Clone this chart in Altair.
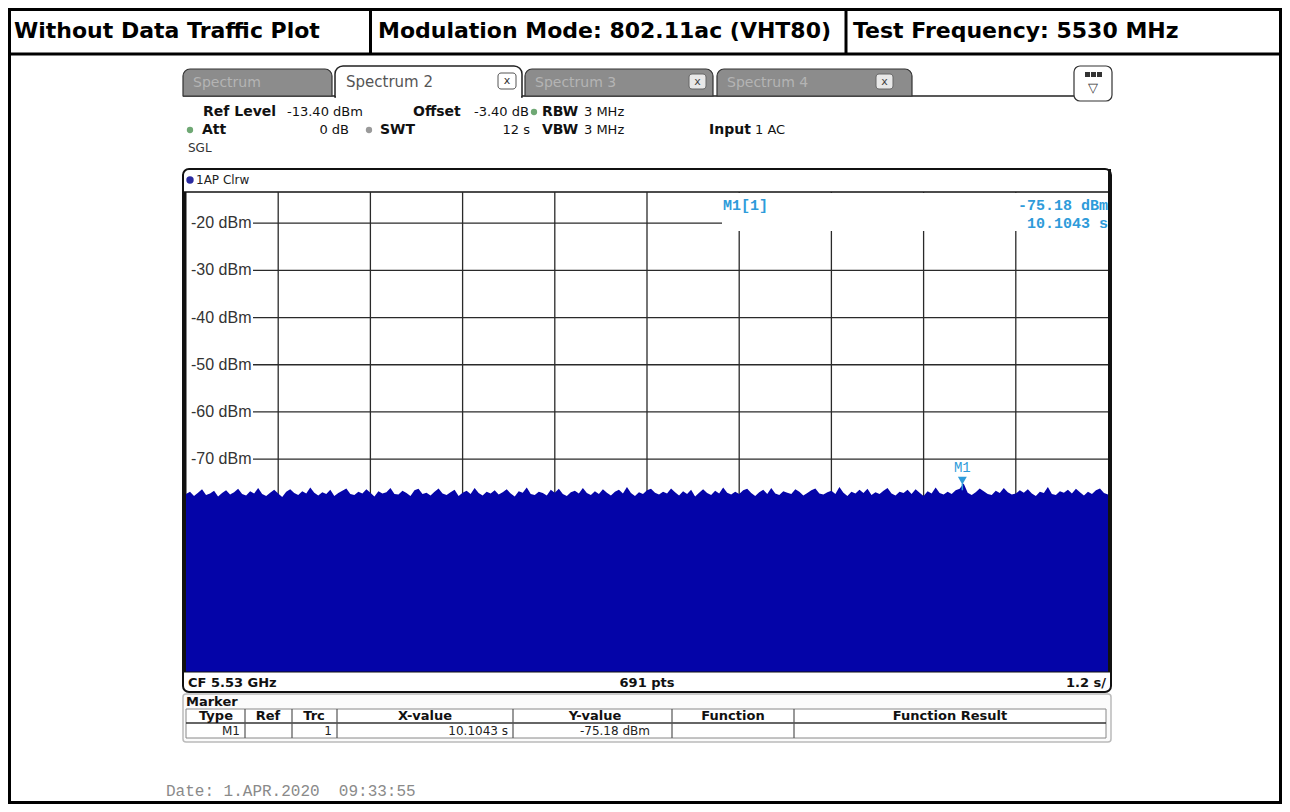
import altair as alt
import pandas as pd

# ---------------- data ----------------
header_cells = ["Without Data Traffic Plot", "Modulation Mode: 802.11ac (VHT80)", "Test Frequency: 5530 MHz"]
tab_names = ["Spectrum", "Spectrum 2", "Spectrum 3", "Spectrum 4"]

sweep_s = 12.0
sweep_points = 691
ref_level_dbm = -13.4
y_bottom_dbm = -115.1

trace_dbm = [
    -77.4, -76.9, -77.8, -77.1, -76.4, -77.6, -77.3, -76.7, -77.9, -77.2,
    -76.6, -77.5, -77.0, -76.3, -77.4, -77.7, -76.8, -77.3, -76.1, -77.4,
    -77.8, -77.1, -76.5, -77.3, -78.0, -76.9, -76.4, -77.2, -77.6, -76.8,
    -77.3, -76.0, -77.1, -77.7, -77.0, -77.4, -76.5, -77.8, -77.2, -76.7,
    -76.2, -77.4, -77.6, -76.9, -77.3, -76.4, -77.1, -77.9, -76.8, -77.3,
    -77.0, -76.1, -77.4, -77.5, -76.7, -77.2, -77.8, -76.6, -76.3, -77.4,
    -77.1, -77.7, -76.9, -76.2, -77.3, -77.6, -77.0, -76.5, -77.8, -77.1,
    -76.7, -77.4, -76.1, -77.2, -77.7, -76.9, -77.3, -76.6, -77.5, -77.0,
    -76.4, -77.3, -77.9, -76.8, -77.1, -76.0, -77.4, -77.6, -76.9, -77.2,
    -77.7, -76.5, -77.1, -76.3, -77.4, -77.8, -77.0, -76.7, -77.3, -76.1,
    -77.2, -77.6, -76.8, -77.4, -76.4, -77.1, -77.7, -76.9, -76.5, -77.3,
    -75.9, -77.2, -77.8, -77.0, -77.4, -76.6, -76.3, -77.1, -77.5, -76.9,
    -77.3, -76.2, -77.0, -77.7, -76.8, -77.4, -76.5, -77.9, -77.1, -76.4,
    -77.2, -77.6, -76.7, -77.3, -76.0, -77.1, -77.5, -76.9, -77.4, -76.6,
    -76.3, -77.2, -77.8, -77.0, -76.5, -77.4, -76.1, -77.3, -77.6, -76.8,
    -77.1, -77.4, -76.4, -76.9, -77.7, -77.2, -76.6, -76.2, -77.3, -77.5,
    -77.0, -76.7, -77.4, -75.9, -77.1, -77.8, -76.9, -77.3, -76.5, -77.2,
    -76.3, -77.6, -77.0, -77.4, -76.7, -76.1, -77.3, -77.7, -76.9, -77.2,
    -76.5, -77.4, -76.4, -77.1, -77.8, -76.8, -77.3, -76.0, -77.2, -77.5,
    -76.9, -77.4, -76.6, -76.3, -75.18, -77.1, -77.6, -77.0, -76.2, -76.8,
    -77.4, -77.6, -76.7, -77.2, -76.1, -77.0, -77.5, -77.3, -76.6, -77.1,
    -76.4, -77.3, -77.8, -76.9, -77.2, -75.9, -77.4, -77.6, -76.8, -77.1,
    -76.5, -77.3, -76.3, -77.0, -77.7, -76.9, -77.4, -76.6, -76.2, -77.2,
    -77.5,
]
grid_time_s = [1.2, 2.4, 3.6, 4.8, 6.0, 7.2, 8.4, 9.6, 10.8]
grid_dbm = [-20, -30, -40, -50, -60, -70, -80, -90, -100, -110]
label_dbm = [-20, -30, -40, -50, -60, -70]
label_text = ["-20 dBm", "-30 dBm", "-40 dBm", "-50 dBm", "-60 dBm", "-70 dBm"]
marker_time_s = [10.1043]
marker_dbm = [-75.18]
table_headers = ["Type", "Ref", "Trc", "X-value", "Y-value", "Function", "Function Result"]

# ---------------- layout ----------------
PLOT_X0, PLOT_Y0 = 186, 192
W, H = 922, 480


def P(x):
    return x - PLOT_X0


def Q(y):
    return y - PLOT_Y0


BASE = pd.DataFrame({"k": [0]})
BLUE = "#0404A8"
MBLUE = "#2E9BDA"
SANS = "DejaVu Sans"


def rect(x1, y1, x2, y2, fill="white", stroke=None, sw=1.0, r=None, rt=None):
    kw = {"fill": fill}
    if stroke is not None:
        kw["stroke"] = stroke
        kw["strokeWidth"] = sw
    if r is not None:
        kw["cornerRadius"] = r
    if rt is not None:
        kw["cornerRadiusTopLeft"] = rt
        kw["cornerRadiusTopRight"] = rt
    return alt.Chart(BASE).mark_rect(**kw).encode(
        x=alt.value(P(x1)), x2=alt.value(P(x2)), y=alt.value(Q(y1)), y2=alt.value(Q(y2)))


def line(x1, y1, x2, y2, color="#000", sw=1.0):
    return alt.Chart(BASE).mark_rule(color=color, strokeWidth=sw).encode(
        x=alt.value(P(x1)), x2=alt.value(P(x2)), y=alt.value(Q(y1)), y2=alt.value(Q(y2)))


def txt(x, y, s, size=13, weight="normal", color="#111", font=SANS, align="left"):
    return alt.Chart(BASE).mark_text(text=s, fontSize=size, fontWeight=weight, color=color,
                                     font=font, align=align, baseline="middle").encode(
        x=alt.value(P(x)), y=alt.value(Q(y)))


def dot(x, y, color, size=40):
    return alt.Chart(BASE).mark_circle(size=size, color=color, opacity=1).encode(
        x=alt.value(P(x)), y=alt.value(Q(y)))


layers = []

# outer frame / header table
layers += [
    rect(9.5, 9.5, 1280.5, 802.5, fill="white", stroke="#000", sw=3),
    line(8, 54, 1282, 54, sw=3),
    line(370.5, 8, 370.5, 54, sw=3),
    line(846, 8, 846, 54, sw=3),
    txt(14, 31, header_cells[0], size=22, weight="bold", color="#000"),
    txt(378, 31, header_cells[1], size=22, weight="bold", color="#000"),
    txt(853, 31, header_cells[2], size=22, weight="bold", color="#000"),
]

# tabs
TABGREY = "#8C8C8C"
layers += [
    line(183, 96, 1074, 96, color="#222", sw=1.5),
    rect(183, 69, 332, 96, fill=TABGREY, stroke="#333", sw=1.2, rt=7),
    txt(193, 83, tab_names[0], size=14, color="#B4B4B4"),
    rect(525, 69, 713, 96, fill=TABGREY, stroke="#333", sw=1.2, rt=7),
    txt(535, 83, tab_names[2], size=14, color="#B4B4B4"),
    rect(689, 74, 706, 89, fill="#E8E8E8", stroke="#666", sw=1, r=3),
    txt(697.5, 81.5, "x", size=11, color="#444", align="center"),
    rect(717, 69, 912, 96, fill=TABGREY, stroke="#333", sw=1.2, rt=7),
    txt(727, 83, tab_names[3], size=14, color="#B4B4B4"),
    rect(876, 74, 893, 89, fill="#E8E8E8", stroke="#666", sw=1, r=3),
    txt(884.5, 81.5, "x", size=11, color="#444", align="center"),
    rect(335, 66, 522, 97, fill="white", stroke="#222", sw=1.5, rt=8),
    line(336, 97, 521, 97, color="white", sw=2.5),
    txt(346, 82, tab_names[1], size=15, color="#555"),
    rect(498, 73, 516, 89, fill="white", stroke="#555", sw=1, r=3),
    txt(507, 81, "x", size=11, color="#333", align="center"),
    rect(1074, 66, 1112, 101, fill="white", stroke="#333", sw=1.2, r=6),
    rect(1085, 72, 1090, 77, fill="#333"),
    rect(1091, 72, 1096, 77, fill="#333"),
    rect(1097, 72, 1102, 77, fill="#333"),
    txt(1093, 88, "\u25bd", size=13, color="#333", align="center"),
]

# info rows
layers += [
    txt(203, 112, "Ref Level", size=14, weight="bold"),
    txt(287, 112, "-13.40 dBm"),
    txt(413, 112, "Offset", size=14, weight="bold"),
    txt(474, 112, "-3.40 dB"),
    dot(534, 112, "#6FA874"),
    txt(542, 112, "RBW", size=14, weight="bold"),
    txt(584, 112, "3 MHz"),
    dot(190, 130, "#6FA874"),
    txt(202, 130, "Att", size=14, weight="bold"),
    txt(349, 130, "0 dB", align="right"),
    dot(369, 130, "#9A9A9A"),
    txt(380, 130, "SWT", size=14, weight="bold"),
    txt(530, 130, "12 s", align="right"),
    txt(542, 130, "VBW", size=14, weight="bold"),
    txt(584, 130, "3 MHz"),
    txt(709, 130, "Input", size=14, weight="bold"),
    txt(755, 130, "1 AC"),
    txt(188, 148, "SGL", size=12, color="#333"),
]

# main diagram box
layers += [
    rect(183, 169, 1111, 692, fill="white", stroke="#111", sw=2, r=6),
    dot(190, 180, "#2A2AA0", size=55),
    txt(196, 180, "1AP Clrw", size=12, color="#222"),
    line(184, 192, 1110, 192, color="#111", sw=1.5),
    line(185, 192, 185, 672, color="#111", sw=3),
    line(1109.5, 169, 1109.5, 672, color="#111", sw=3),
]

# data-driven plot
xs = alt.Scale(domain=[0, sweep_s], nice=False, zero=False)
ys = alt.Scale(domain=[y_bottom_dbm, ref_level_dbm], nice=False, zero=False)

n = len(trace_dbm)
trace_df = pd.DataFrame({"t": [i * sweep_s / (n - 1) for i in range(n)], "dbm": trace_dbm})
vgrid_df = pd.DataFrame({"t": grid_time_s})
hgrid_df = pd.DataFrame({"dbm": grid_dbm})
lab_df = pd.DataFrame({"dbm": label_dbm, "label": label_text})
mk_df = pd.DataFrame({"t": marker_time_s, "dbm": marker_dbm})

layers += [
    alt.Chart(vgrid_df).mark_rule(color="#2A2A2A", strokeWidth=1.3).encode(
        x=alt.X("t:Q", scale=xs, axis=None), y=alt.value(0), y2=alt.value(H)),
    alt.Chart(hgrid_df).mark_rule(color="#2A2A2A", strokeWidth=1.3).encode(
        y=alt.Y("dbm:Q", scale=ys, axis=None), x=alt.value(P(253)), x2=alt.value(W)),
    alt.Chart(lab_df).mark_text(align="left", baseline="middle", fontSize=16,
                                font="Liberation Sans", color="#333").encode(
        y=alt.Y("dbm:Q", scale=ys, axis=None), x=alt.value(P(191)), text="label:N"),
    alt.Chart(trace_df).mark_area(color=BLUE, opacity=1, interpolate="linear").encode(
        x=alt.X("t:Q", scale=xs, axis=None), y=alt.Y("dbm:Q", scale=ys, axis=None),
        y2=alt.datum(y_bottom_dbm)),
    # marker readout area
    rect(722, 193, 1108, 231, fill="white"),
    txt(723, 205, "M1[1]", size=15, weight="bold", color=MBLUE, font="Liberation Mono"),
    txt(1108, 205, f"{marker_dbm[0]:.2f} dBm", size=15, weight="bold", color=MBLUE,
        font="Liberation Mono", align="right"),
    txt(1108, 223, f"{marker_time_s[0]:.4f} s", size=15, weight="bold", color=MBLUE,
        font="Liberation Mono", align="right"),
    alt.Chart(mk_df).mark_rule(color=MBLUE, strokeWidth=1.5).encode(
        x=alt.X("t:Q", scale=xs, axis=None), y=alt.Y("dbm:Q", scale=ys, axis=None),
        y2=alt.datum(-76.6)),
    alt.Chart(mk_df).mark_point(shape="triangle-down", filled=True, size=80,
                                color=MBLUE, opacity=1, yOffset=-3).encode(
        x=alt.X("t:Q", scale=xs, axis=None), y=alt.Y("dbm:Q", scale=ys, axis=None)),
    alt.Chart(mk_df).mark_text(text="M1", fontSize=14, font="Liberation Mono",
                               color=MBLUE, dy=-16).encode(
        x=alt.X("t:Q", scale=xs, axis=None), y=alt.Y("dbm:Q", scale=ys, axis=None)),
]

# CF bar
layers += [
    line(184, 672, 1110, 672, color="#111", sw=1),
    txt(188, 683, "CF 5.53 GHz", weight="bold"),
    txt(647, 683, f"{sweep_points} pts", weight="bold", align="center"),
    txt(1106, 683, "1.2 s/", weight="bold", align="right"),
]

# marker table
col_x = [186, 245, 292, 337, 513, 672, 794, 1106]
hdr_cx = [216, 268, 314, 425, 595, 733, 950]
layers += [
    rect(183, 694, 1111, 742, fill="#FBFBFB", stroke="#BBBBBB", sw=1.5, r=3),
    txt(186, 702, "Marker", weight="bold"),
    rect(186, 709, 1106, 738, fill="white", stroke="#888", sw=1),
    line(186, 723, 1106, 723, color="#333", sw=1.5),
]
for cx in col_x[1:-1]:
    layers.append(line(cx, 709, cx, 738, color="#555", sw=1.2))
for cx, h in zip(hdr_cx, table_headers):
    layers.append(txt(cx, 716, h, weight="bold", align="center"))
layers += [
    txt(240, 731, "M1", size=12, color="#222", align="right"),
    txt(332, 731, "1", size=12, color="#222", align="right"),
    txt(508, 731, f"{marker_time_s[0]:.4f} s", size=12, color="#222", align="right"),
    txt(650, 731, f"{marker_dbm[0]:.2f} dBm", size=12, color="#222", align="right"),
    txt(166, 791, "Date: 1.APR.2020\u00a0\u00a009:33:55", size=16, color="#8A8A8A",
        font="Liberation Mono"),
]

chart = alt.layer(*layers).properties(
    width=W, height=H,
    padding={"left": PLOT_X0 - 8, "top": PLOT_Y0 - 8, "right": 1274 - (PLOT_X0 - 8) - W,
             "bottom": 796 - (PLOT_Y0 - 8) - H},
    autosize=alt.AutoSizeParams(type="none"),
    background="white",
).configure_view(strokeWidth=0)

chart.save("out.html", embed_options={"renderer": "svg", "actions": False})
